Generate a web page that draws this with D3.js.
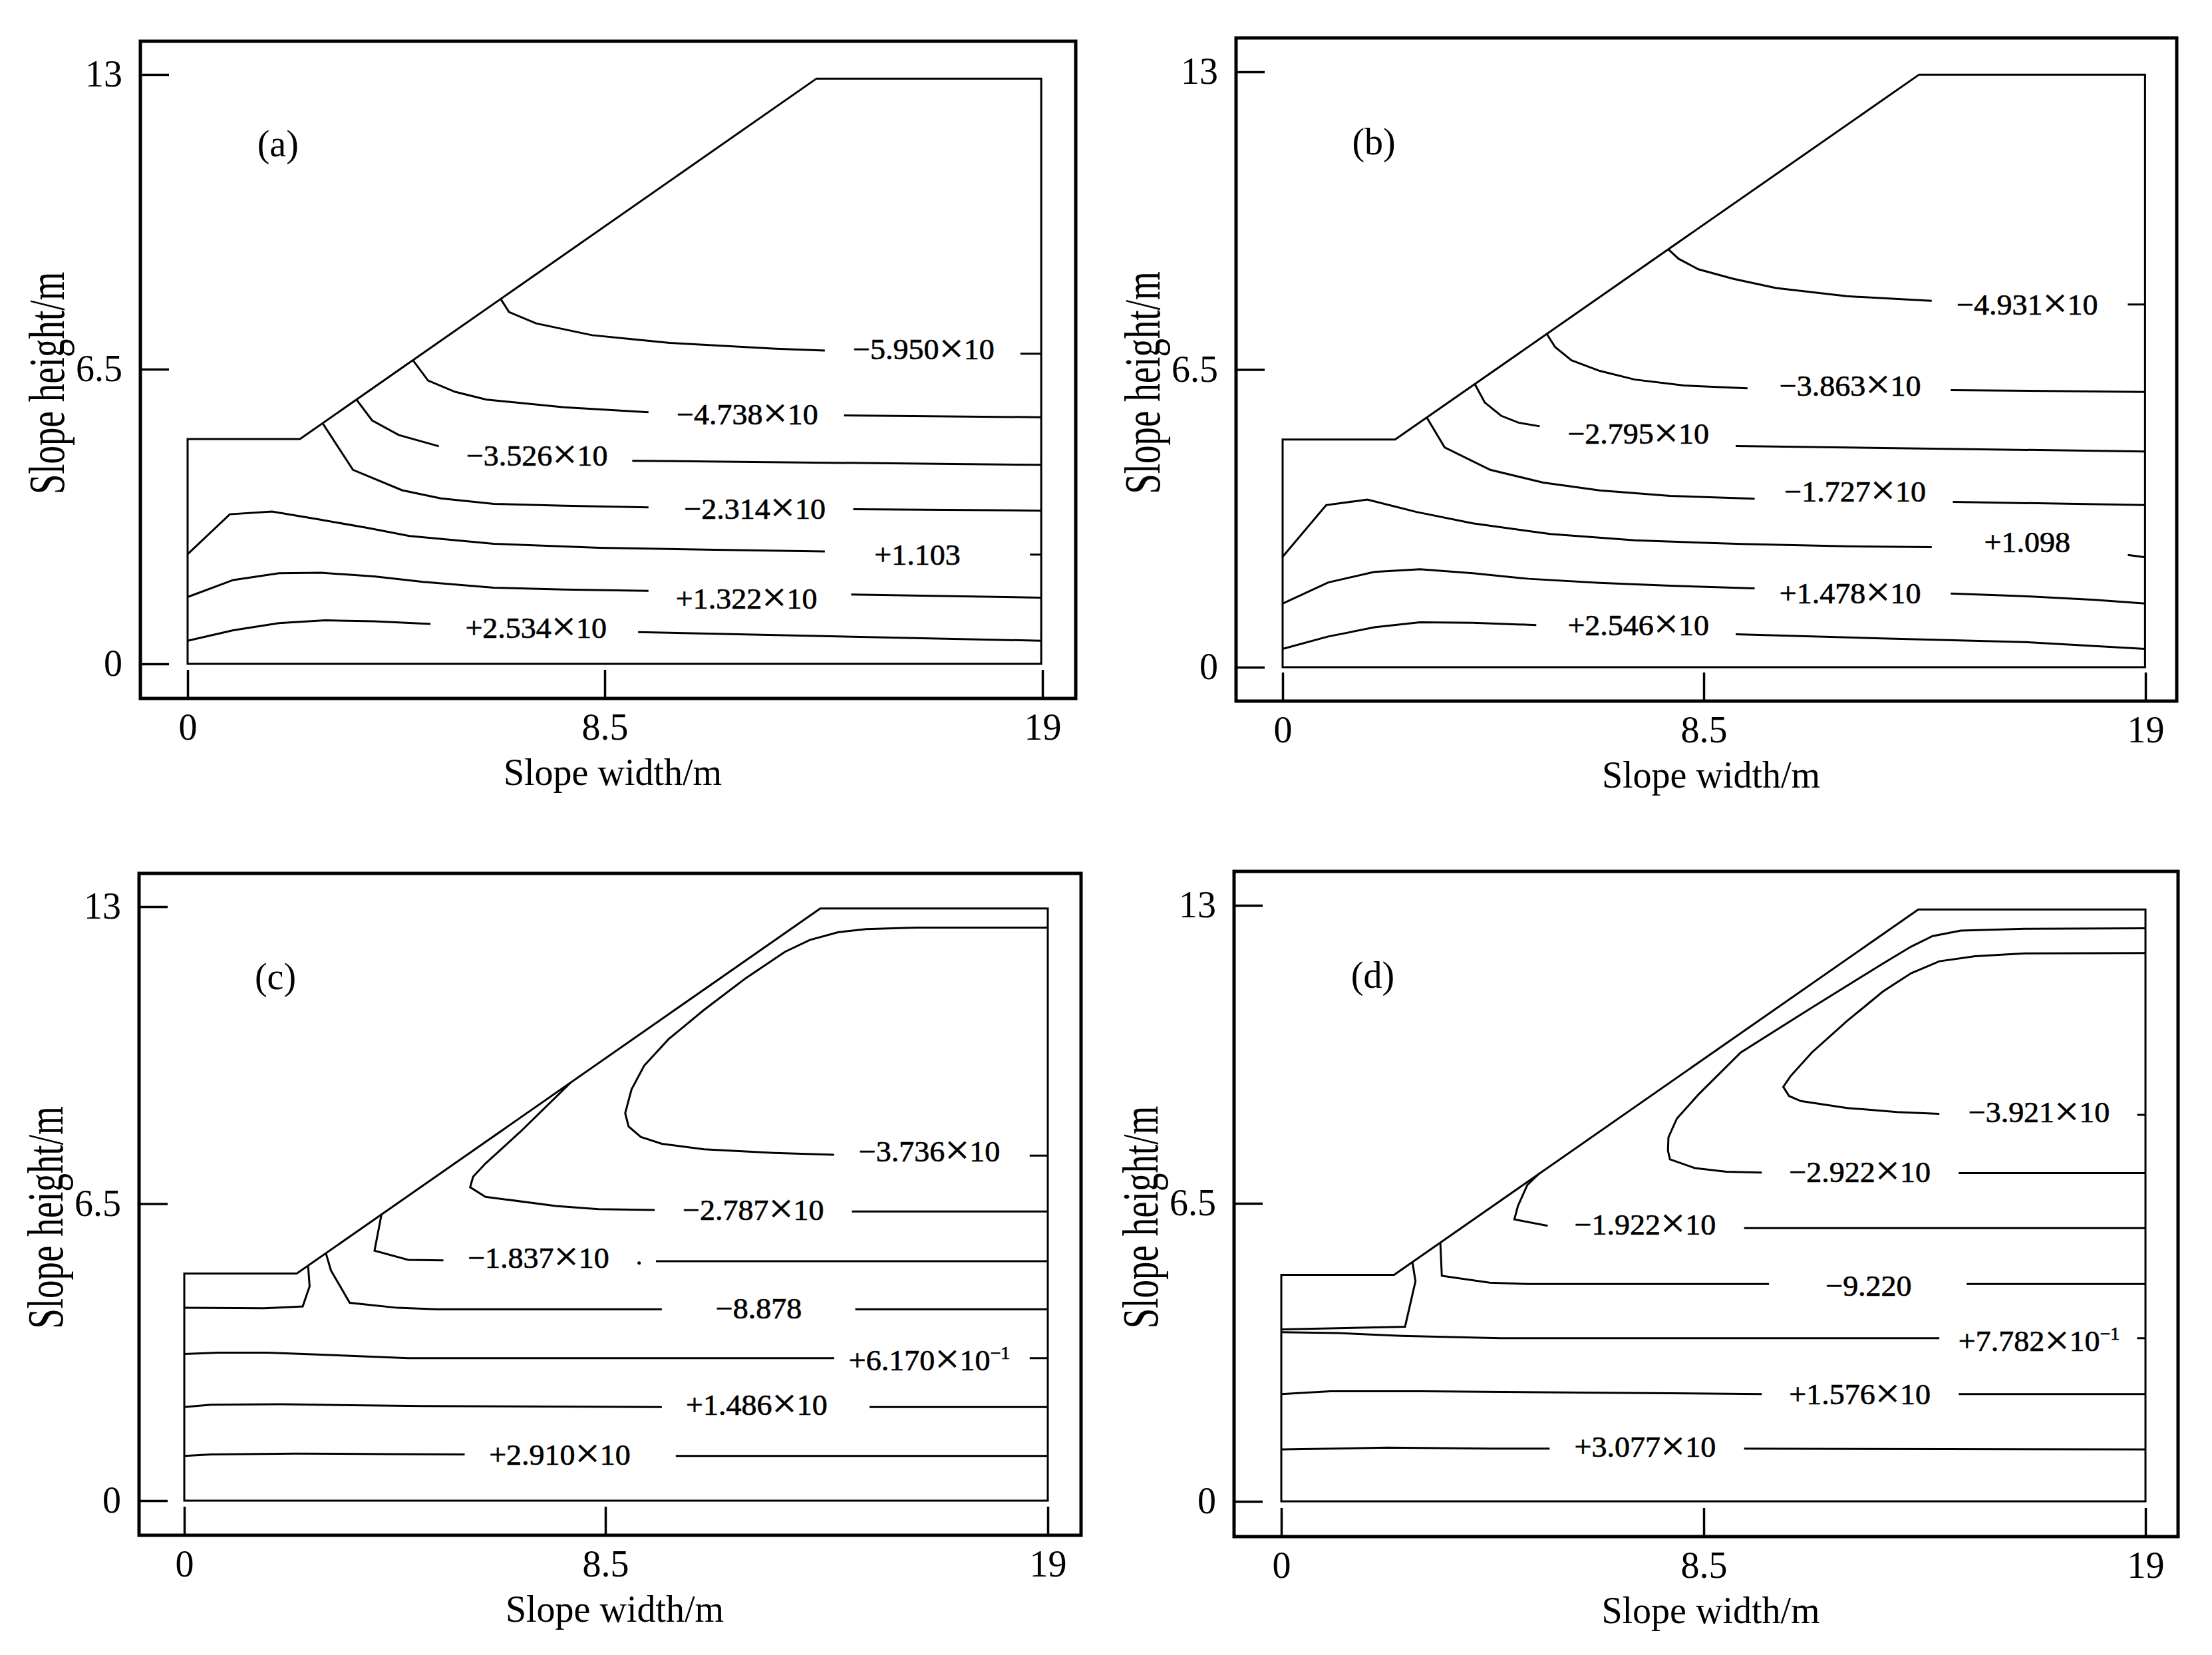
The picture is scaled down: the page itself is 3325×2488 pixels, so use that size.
<!DOCTYPE html>
<html>
<head>
<meta charset="utf-8">
<script src="https://cdn.jsdelivr.net/npm/d3@7"></script>
<style>
	body { margin: 0; background: #fff; }
	svg text { font-family: "Liberation Serif", "Times New Roman", serif; fill: #000; }
</style>
</head>
<body>
<div id="chart"></div>
<script>
//
// Data (metres)
//
var xTicks = [0, 8.5, 19];
var yTicks = [0, 6.5, 13];
var panelNames = ["(a)", "(b)", "(c)", "(d)"];
var panelLabelAt = [1.84, 11.2];

// slope outline of every panel
var outlineA = [[0,0],[0,4.96],[2.29,4.96],[13.58,12.91],[18.97,12.91],[18.97,0]];
var outlineB = [[0,0],[0,4.97],[2.27,4.97],[13.62,12.94],[18.99,12.94],[18.99,0]];
var outlineC = [[0,0],[0,4.97],[2.27,4.97],[13.60,12.96],[19.0,12.96],[19.0,0]];
var outlineD = [[0,0],[0,4.94],[2.27,4.94],[13.60,12.91],[19.0,12.91],[19.0,0]];

// contour lines: null = break in the line (where the label sits)
var contoursA = [
	{ text: "\u22125.950\u00d710", at: [16.15, 6.94], pts: [[6.38,8.05],[6.55,7.76],[7.10,7.51],[8.24,7.25],[10.06,7.08],[12.60,6.95],[13.78,6.91],null,[18.47,6.84],[18.97,6.84]] },
	{ text: "\u22124.738\u00d710", at: [11.92, 5.51], pts: [[4.59,6.70],[4.90,6.25],[5.45,6.00],[6.09,5.83],[7.67,5.66],[9.55,5.55],null,[14.24,5.48],[18.97,5.44]] },
	{ text: "\u22123.526\u00d710", at: [7.12, 4.60], pts: [[3.44,5.83],[3.76,5.37],[4.30,5.05],[5.12,4.80],null,[9.16,4.48],[18.97,4.39]] },
	{ text: "\u22122.314\u00d710", at: [12.1, 3.43], pts: [[2.75,5.31],[3.37,4.28],[4.37,3.83],[5.16,3.65],[6.24,3.53],[7.67,3.49],[9.55,3.45],null,[14.46,3.41],[18.97,3.38]] },
	{ text: "+1.103", at: [16.0, 2.42], pts: [[0,2.42],[0.86,3.30],[1.72,3.36],[2.65,3.19],[3.66,3.00],[4.52,2.82],[6.24,2.65],[8.39,2.56],[10.90,2.52],[13.78,2.48],null,[18.70,2.41],[18.97,2.41]] },
	{ text: "+1.322\u00d710", at: [11.9, 1.45], pts: [[0,1.475],[0.93,1.85],[1.86,2.00],[2.72,2.01],[3.80,1.93],[4.80,1.81],[6.24,1.68],[7.67,1.64],[9.55,1.61],null,[14.41,1.53],[18.97,1.46]] },
	{ text: "+2.534\u00d710", at: [7.10, 0.80], pts: [[0,0.51],[0.93,0.74],[1.86,0.90],[2.80,0.96],[3.80,0.94],[4.95,0.88],null,[9.30,0.70],[18.97,0.51]] }
];

var contoursB = [
	{ text: "\u22124.931\u00d710", at: [16.19, 7.93], pts: [[7.78,9.13],[7.99,8.92],[8.39,8.69],[9.21,8.48],[10.22,8.28],[11.90,8.10],[13.92,8.00],null,[18.58,7.92],[18.99,7.92]] },
	{ text: "\u22123.863\u00d710", at: [11.98, 6.15], pts: [[5.33,7.28],[5.50,6.99],[5.83,6.70],[6.40,6.47],[7.11,6.28],[8.10,6.15],[9.54,6.09],null,[14.37,6.05],[18.99,6.01]] },
	{ text: "\u22122.795\u00d710", at: [7.18, 5.10], pts: [[3.88,6.18],[4.08,5.78],[4.41,5.49],[4.76,5.34],[5.19,5.26],null,[9.26,4.83],[18.99,4.71]] },
	{ text: "\u22121.727\u00d710", at: [12.1, 3.84], pts: [[2.91,5.45],[3.27,4.80],[4.19,4.31],[5.26,4.03],[6.40,3.86],[7.82,3.74],[9.71,3.68],null,[14.42,3.61],[18.99,3.54]] },
	{ text: "+1.098", at: [16.19, 2.74], pts: [[0,2.41],[0.88,3.54],[1.71,3.66],[2.70,3.39],[3.84,3.14],[5.40,2.91],[7.11,2.77],[9.38,2.69],[11.90,2.64],[13.92,2.62],null,[18.58,2.45],[18.99,2.40]] },
	{ text: "+1.478\u00d710", at: [11.98, 1.62], pts: [[0,1.39],[0.92,1.85],[1.85,2.08],[2.77,2.14],[3.84,2.05],[4.97,1.93],[6.40,1.84],[7.82,1.78],[9.71,1.72],null,[14.37,1.61],[16.11,1.55],[17.79,1.47],[18.99,1.39]] },
	{ text: "+2.546\u00d710", at: [7.18, 0.92], pts: [[0,0.40],[0.92,0.67],[1.85,0.87],[2.77,0.98],[3.84,0.97],[5.12,0.92],null,[9.26,0.72],[12.74,0.63],[16.11,0.55],[18.99,0.40]] }
];

var contoursC = [
	{ text: "\u22123.736\u00d710", at: [16.19, 7.65], pts: [[19.0,12.54],[15.86,12.54],[14.69,12.51],[14.02,12.44],[13.35,12.27],[12.76,12.01],[11.84,11.44],[10.84,10.74],[10.00,10.10],[9.42,9.52],[9.12,9.00],[8.97,8.48],[9.05,8.19],[9.34,7.96],[9.84,7.81],[10.84,7.69],[12.51,7.61],[13.93,7.57],null,[18.57,7.55],[19.0,7.55]] },
	{ text: "\u22122.787\u00d710", at: [12.01, 6.37], pts: [[7.79,9.14],[6.79,8.08],[6.08,7.38],[5.83,7.09],[5.77,6.86],[6.08,6.65],[7.50,6.45],[8.36,6.38],[9.67,6.36],null,[14.35,6.33],[19.0,6.33]] },
	{ text: "\u22121.837\u00d710", at: [7.15, 5.32], pts: [[3.98,6.26],[3.84,5.47],[4.52,5.27],[5.23,5.26],null,[9.70,5.24],[19.0,5.24]] },
	{ text: "\u22128.878", at: [12.14, 4.22], pts: [[0,4.22],[1.61,4.21],[2.39,4.25],[2.53,4.69],[2.50,5.13],null,[2.86,5.41],[2.96,5.04],[3.34,4.33],[4.31,4.22],[5.09,4.19],[9.84,4.19],null,[14.43,4.19],[19.0,4.19]] },
	{ text: "+6.170\u00d710", sup: "\u22121", at: [16.19, 3.08], pts: [[0,3.21],[0.68,3.24],[1.68,3.24],[2.67,3.20],[4.52,3.12],[7.65,3.12],[13.93,3.12],null,[18.57,3.12],[19.0,3.12]] },
	{ text: "+1.486\u00d710", at: [12.09, 2.11], pts: [[0,2.05],[0.54,2.10],[1.96,2.11],[4.80,2.07],[9.84,2.05],null,[14.77,2.05],[19.0,2.05]] },
	{ text: "+2.910\u00d710", at: [7.58, 1.01], pts: [[0,0.98],[0.54,1.01],[2.25,1.03],[4.09,1.02],[5.66,1.01],null,[10.17,0.98],[19.0,0.98]] }
];
var dotsC = [[9.30, 5.20]];

var contoursD = [
	{ text: "\u22123.921\u00d710", at: [16.47, 8.49], pts: [[19.0,11.96],[16.13,11.95],[14.95,11.89],[14.10,11.78],[13.43,11.52],[12.76,11.12],[11.91,10.48],[11.07,9.79],[10.56,9.27],[10.39,9.04],[10.53,8.84],[10.81,8.73],[11.91,8.58],[13.09,8.49],[14.10,8.45],null,[18.8,8.43],[19.0,8.43]] },
	{ text: "\u22122.922\u00d710", at: [12.21, 7.19], pts: [[19.0,12.50],[16.13,12.49],[14.61,12.45],[13.94,12.33],[13.43,12.10],[12.76,11.73],[11.07,10.77],[9.38,9.79],[8.39,8.87],[7.96,8.35],[7.79,7.94],[7.78,7.65],[7.82,7.46],[8.32,7.27],[9.04,7.19],[9.88,7.17],null,[14.56,7.16],[19.0,7.16]] },
	{ text: "\u22121.922\u00d710", at: [7.32, 6.04], pts: [[5.19,7.15],[4.95,6.90],[4.76,6.44],[4.69,6.15],[5.36,6.01],null,[9.46,5.96],[19.0,5.96]] },
	{ text: "\u22129.220", at: [12.42, 4.71], pts: [[0,3.75],[2.49,3.81],[2.70,4.80],[2.64,5.21],null,[3.20,5.65],[3.23,4.92],[4.19,4.77],[4.97,4.74],[10.05,4.74],null,[14.75,4.74],[19.0,4.74]] },
	{ text: "+7.782\u00d710", sup: "\u22121", at: [16.47, 3.50], pts: [[0,3.69],[1.14,3.67],[2.42,3.61],[4.41,3.56],[7.82,3.56],[14.10,3.56],null,[18.8,3.56],[19.0,3.56]] },
	{ text: "+1.576\u00d710", at: [12.21, 2.34], pts: [[0,2.34],[0.99,2.40],[2.84,2.40],[6.40,2.37],[9.88,2.34],null,[14.56,2.34],[19.0,2.34]] },
	{ text: "+3.077\u00d710", at: [7.32, 1.19], pts: [[0,1.13],[2.13,1.17],[4.26,1.15],[5.40,1.15],null,[9.46,1.15],[19.0,1.13]] }
];

//
// Layout (pixels)
//
var panels = [
	{ l: 211,  t: 62,   r: 1617, b: 1050, x0: 282,  x85: 909,  x19: 1567, y0: 998,  y13: 112,  outline: outlineA, contours: contoursA, dots: [] },
	{ l: 1858, t: 57,   r: 3272, b: 1054, x0: 1928, x85: 2561, x19: 3225, y0: 1003, y13: 108,  outline: outlineB, contours: contoursB, dots: [] },
	{ l: 209,  t: 1313, r: 1625, b: 2308, x0: 277,  x85: 910,  x19: 1575, y0: 2256, y13: 1363, outline: outlineC, contours: contoursC, dots: dotsC },
	{ l: 1855, t: 1310, r: 3274, b: 2310, x0: 1926, x85: 2561, x19: 3225, y0: 2257, y13: 1361, outline: outlineD, contours: contoursD, dots: [] }
];

var svg = d3.select("#chart").append("svg")
	.attr("width", 3325)
	.attr("height", 2488);

svg.append("rect")
	.attr("width", 3325)
	.attr("height", 2488)
	.attr("fill", "#fff");

panels.forEach(function(p, i) {
	var x = d3.scaleLinear().domain([0, 8.5, 19]).range([p.x0, p.x85, p.x19]);
	var y = d3.scaleLinear().domain([0, 13]).range([p.y0, p.y13]);

	var g = svg.append("g");

	// frame
	g.append("rect")
		.attr("x", p.l)
		.attr("y", p.t)
		.attr("width", p.r - p.l)
		.attr("height", p.b - p.t)
		.attr("fill", "none")
		.attr("stroke", "#000")
		.attr("stroke-width", 5);

	// axes, ticks point inward
	var yAxis = g.append("g")
		.attr("transform", "translate(" + p.l + ",0)")
		.call(d3.axisLeft(y).tickValues(yTicks).tickSize(-43).tickPadding(27)
			.tickFormat(function(d) { return String(d); }));
	var xAxis = g.append("g")
		.attr("transform", "translate(0," + p.b + ")")
		.call(d3.axisBottom(x).tickValues(xTicks).tickSize(-43).tickPadding(22)
			.tickFormat(function(d) { return String(d); }));

	[yAxis, xAxis].forEach(function(a) {
		a.select(".domain").remove();
		a.selectAll(".tick line").attr("stroke", "#000").attr("stroke-width", 3.5);
		a.selectAll(".tick text")
			.style("font-family", "'Liberation Serif', 'Times New Roman', serif")
			.style("font-size", "56px")
			.attr("fill", "#000");
	});

	// axis titles
	g.append("text")
		.attr("x", (p.l + p.r) / 2 + 7)
		.attr("y", p.b + 130)
		.attr("text-anchor", "middle")
		.style("font-size", "56px")
		.text("Slope width/m");

	g.append("text")
		.attr("transform", "translate(" + (p.l - 115) + "," + ((p.t + p.b) / 2 + 20) + ") rotate(-90) scale(1,1.38)")
		.attr("text-anchor", "middle")
		.style("font-size", "55px")
		.text("Slope height/m");

	// panel name
	g.append("text")
		.attr("x", x(panelLabelAt[0]))
		.attr("y", y(panelLabelAt[1]))
		.attr("text-anchor", "middle")
		.style("font-size", "56px")
		.text(panelNames[i]);

	var line = d3.line()
		.defined(function(d) { return d !== null; })
		.x(function(d) { return x(d[0]); })
		.y(function(d) { return y(d[1]); });

	// slope outline
	g.append("path")
		.attr("d", line(p.outline) + "Z")
		.attr("fill", "none")
		.attr("stroke", "#000")
		.attr("stroke-width", 3)
		.attr("stroke-linejoin", "miter");

	// contours
	g.selectAll("path.contour")
		.data(p.contours)
		.enter()
		.append("path")
		.attr("class", "contour")
		.attr("d", function(d) { return line(d.pts); })
		.attr("fill", "none")
		.attr("stroke", "#000")
		.attr("stroke-width", 3);

	// contour values with a large times sign
	var lab = g.selectAll("g.label")
		.data(p.contours)
		.enter()
		.append("g")
		.attr("class", "label")
		.attr("transform", function(d) {
			return "translate(" + x(d.at[0]) + "," + y(d.at[1]) + ") scale(1,0.96)";
		});

	var t = lab.append("text")
		.attr("text-anchor", "middle")
		.attr("dy", "0.35em")
		.attr("stroke", "#000")
		.attr("stroke-width", 0.7)
		.style("font-size", "46px");
	t.each(function(d) {
		var el = d3.select(this);
		var parts = d.text.split("\u00d7");
		el.append("tspan").text(parts[0]);
		if (parts.length > 1) {
			el.append("tspan").attr("dy", 4.5).style("font-size", "66px").text("\u00d7");
			el.append("tspan").attr("dy", -4.5).text(parts[1]);
		}
		if (d.sup) {
			el.append("tspan")
				.attr("dy", -18)
				.style("font-size", "28px")
				.text(d.sup);
		}
	});

	g.selectAll("circle.dot")
		.data(p.dots)
		.enter()
		.append("circle")
		.attr("class", "dot")
		.attr("cx", function(d) { return x(d[0]); })
		.attr("cy", function(d) { return y(d[1]); })
		.attr("r", 2.5)
		.attr("fill", "#000");
});
</script>
</body>
</html>
